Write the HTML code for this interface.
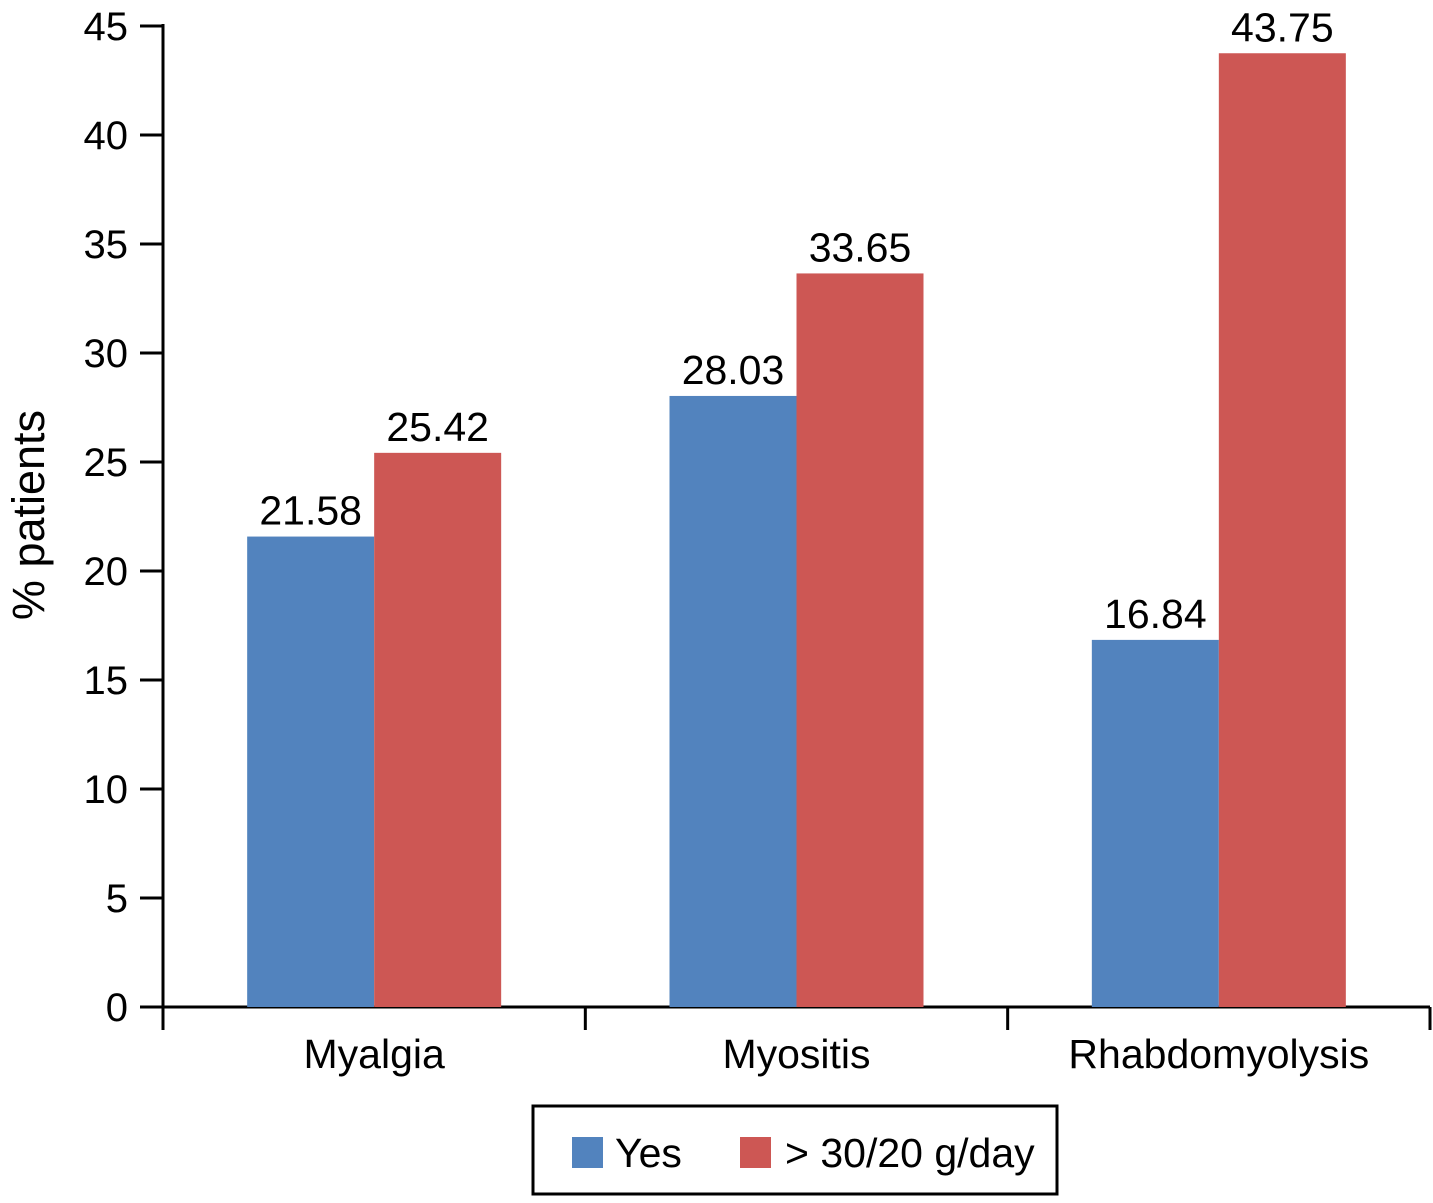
<!DOCTYPE html>
<html><head><meta charset="utf-8"><style>
body{margin:0;background:#fff;}
svg text{font-family:"Liberation Sans",Arial,sans-serif;fill:#000;}
</style></head><body>
<svg id="chart" width="1433" height="1198" xmlns="http://www.w3.org/2000/svg">
<g id="axes"></g><g id="bars"></g>
<text transform="translate(44,515) rotate(-90)" text-anchor="middle" font-size="45">% patients</text>
<g>
<rect x="533" y="1106" width="524" height="88" fill="none" stroke="#000" stroke-width="3"/>
<rect x="572" y="1137" width="31" height="31" fill="#5283BE"/>
<text x="615" y="1167" font-size="41">Yes</text>
<rect x="740" y="1137" width="31" height="31" fill="#CD5754"/>
<text x="785" y="1167" font-size="41">&gt; 30/20 g/day</text>
</g>
</svg>
<script>
const categories=["Myalgia","Myositis","Rhabdomyolysis"];
const yesValues=[21.58,28.03,16.84];
const highValues=[25.42,33.65,43.75];
const yTicks=[0,5,10,15,20,25,30,35,40,45];
const NS="http://www.w3.org/2000/svg";
const x0=163,x1=1430,y0=1007,yTop=26,yMax=45;
const catW=(x1-x0)/categories.length,barW=127;
const y=v=>y0-(v/yMax)*(y0-yTop);
const axes=document.getElementById('axes'),bars=document.getElementById('bars');
function mk(tag,attrs,parent){const e=document.createElementNS(NS,tag);for(const k in attrs)e.setAttribute(k,attrs[k]);parent.appendChild(e);return e;}
let l=mk('line',{x1:x0,y1:yTop-2,x2:x0,y2:y0,stroke:'#000','stroke-width':3},axes);


l=mk('line',{x1:x0,y1:y0,x2:x1,y2:y0,stroke:'#000','stroke-width':3},axes);


yTicks.forEach(t=>{
  const tk=mk('line',{x1:140,y1:y(t),x2:x0,y2:y(t),stroke:'#000','stroke-width':3},axes);
  
  
  const tx=mk('text',{x:128,y:y(t)+14,'text-anchor':'end','font-size':40},axes);
  tx.textContent=t;
  
  
});
for(let i=0;i<=categories.length;i++){
  const tk=mk('line',{x1:x0+i*catW,y1:y0,x2:x0+i*catW,y2:1030,stroke:'#000','stroke-width':3},axes);
  
  
}
categories.forEach((c,i)=>{
  const cx=x0+catW*(i+0.5);
  const tx=mk('text',{x:cx,y:1068,'text-anchor':'middle','font-size':41},axes);
  tx.textContent=c;
  
  
  [[yesValues[i],'#5283BE',cx-barW,'yes'],[highValues[i],'#CD5754',cx,'high-dose']].forEach(([v,col,bx,s])=>{
    const r=mk('rect',{x:bx,y:y(v),width:barW,height:y0-y(v),fill:col},bars);
    
    
    const t=mk('text',{x:bx+barW/2,y:y(v)-12,'text-anchor':'middle','font-size':41},bars);
    t.textContent=v.toFixed(2);
    
    
  });
});
</script>
</body></html>
